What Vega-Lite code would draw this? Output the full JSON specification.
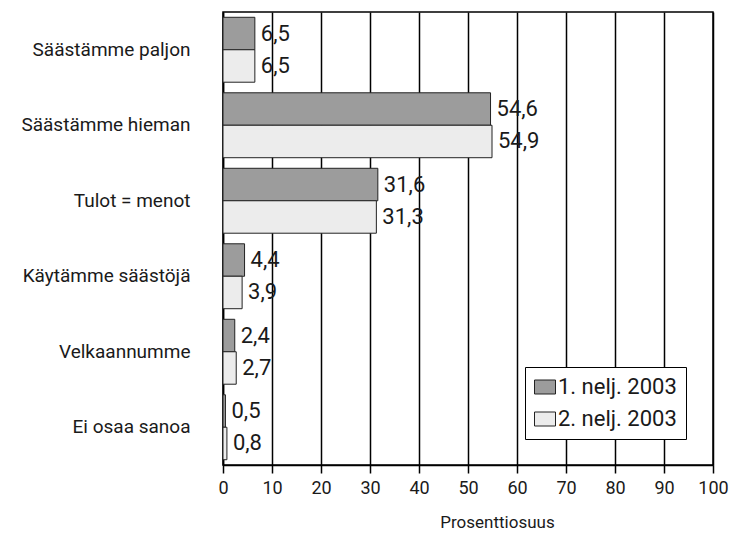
{
  "$schema": "https://vega.github.io/schema/vega-lite/v6.json",
  "width": 490,
  "height": 453,
  "autosize": {"type": "none"},
  "padding": {"left": 223, "top": 12, "right": 17, "bottom": 75},
  "background": "white",
  "config": {
    "font": "Roboto, Liberation Sans, sans-serif",
    "view": {"stroke": "black", "strokeWidth": 1.5},
    "locale": {"number": {"decimal": ",", "thousands": " ", "grouping": [3], "currency": ["", " €"]}}
  },
  "data": {
    "values": [
      {"category": "Säästämme paljon", "period": "1. nelj. 2003", "value": 6.5},
      {"category": "Säästämme paljon", "period": "2. nelj. 2003", "value": 6.5},
      {"category": "Säästämme hieman", "period": "1. nelj. 2003", "value": 54.6},
      {"category": "Säästämme hieman", "period": "2. nelj. 2003", "value": 54.9},
      {"category": "Tulot = menot", "period": "1. nelj. 2003", "value": 31.6},
      {"category": "Tulot = menot", "period": "2. nelj. 2003", "value": 31.3},
      {"category": "Käytämme säästöjä", "period": "1. nelj. 2003", "value": 4.4},
      {"category": "Käytämme säästöjä", "period": "2. nelj. 2003", "value": 3.9},
      {"category": "Velkaannumme", "period": "1. nelj. 2003", "value": 2.4},
      {"category": "Velkaannumme", "period": "2. nelj. 2003", "value": 2.7},
      {"category": "Ei osaa sanoa", "period": "1. nelj. 2003", "value": 0.5},
      {"category": "Ei osaa sanoa", "period": "2. nelj. 2003", "value": 0.8}
    ]
  },
  "encoding": {
    "y": {
      "field": "category",
      "type": "nominal",
      "sort": null,
      "scale": {"paddingInner": 0.14, "paddingOuter": 0.07},
      "axis": {
        "title": null,
        "ticks": false,
        "labelPadding": 33,
        "labelFontSize": 19,
        "labelColor": "#1a1a1a",
        "domainColor": "black",
        "domainWidth": 1.5
      }
    },
    "yOffset": {"field": "period", "type": "nominal", "scale": {"paddingInner": 0, "paddingOuter": 0}},
    "x": {
      "field": "value",
      "type": "quantitative",
      "scale": {"domain": [0, 100], "nice": false},
      "axis": {
        "values": [0, 10, 20, 30, 40, 50, 60, 70, 80, 90, 100],
        "format": "d",
        "labelFlush": false,
        "labelOverlap": false,
        "title": "Prosenttiosuus",
        "titleFontSize": 17,
        "titleFontWeight": "normal",
        "titleColor": "#1a1a1a",
        "titlePadding": 17,
        "titleX": 274,
        "titleAlign": "center",
        "labelFontSize": 18,
        "labelColor": "#1a1a1a",
        "labelPadding": 6,
        "tickSize": 8,
        "tickColor": "black",
        "tickWidth": 1.5,
        "domainColor": "black",
        "domainWidth": 1.5,
        "grid": true,
        "gridColor": "black",
        "gridWidth": 1.5,
        "gridOpacity": 1
      }
    }
  },
  "layer": [
    {
      "mark": {"type": "bar", "stroke": "#222", "strokeWidth": 1},
      "encoding": {
        "fill": {
          "field": "period",
          "type": "nominal",
          "scale": {"range": ["#9c9c9c", "#ececec"]},
          "legend": {
            "title": null,
            "orient": "none",
            "legendX": 302,
            "legendY": 355,
            "direction": "vertical",
            "strokeColor": "black",
            "fillColor": "white",
            "padding": 9,
            "labelFontSize": 22,
            "labelColor": "#1a1a1a",
            "symbolType": "M-1.5,-1L1.5,-1L1.5,1L-1.5,1Z",
            "symbolSize": 196,
            "symbolStrokeColor": "#222",
            "symbolStrokeWidth": 1,
            "symbolOpacity": 1,
            "rowPadding": 10,
            "labelOffset": 2
          }
        }
      }
    },
    {
      "mark": {"type": "text", "align": "left", "baseline": "middle", "dx": 6, "fontSize": 22, "color": "#1a1a1a"},
      "encoding": {
        "text": {"field": "value", "type": "quantitative", "format": ".1f"}
      }
    }
  ]
}
